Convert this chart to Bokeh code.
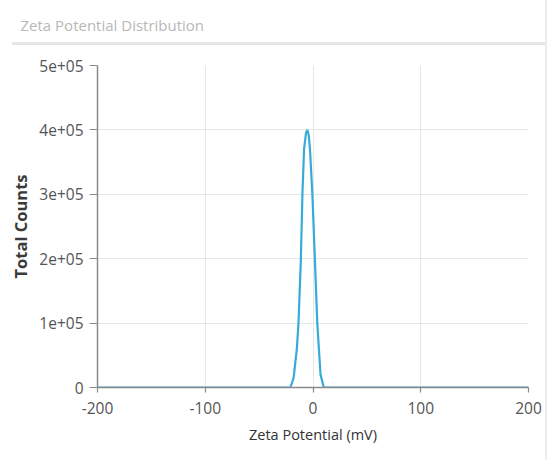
from bokeh.plotting import figure
from bokeh.models import FixedTicker, Range1d, ColumnDataSource, InlineStyleSheet, Title
from bokeh.embed import file_html
from bokeh.resources import INLINE

# Data
zeta_mv = [-200, -21, -18, -15, -13.5, -11.3, -9.8, -8.3, -6.5, -5.2, -4, -2.8, -0.6, 1.8, 4, 7, 10, 200]
total_counts = [0, 0, 15000, 60000, 99000, 197000, 301000, 370000, 395000, 400000, 392000, 370000, 301000, 197000, 99000, 20000, 0, 0]

x_ticks = [-200, -100, 0, 100, 200]
x_tick_labels = ["-200", "-100", "0", "100", "200"]
y_ticks = [0, 100000, 200000, 300000, 400000, 500000]
y_tick_labels = ["0", "1e+05", "2e+05", "3e+05", "4e+05", "5e+05"]

TITLE = "Zeta Potential Distribution"
FONT = "Open Sans"

css = InlineStyleSheet(css="""
:host { position: relative; }
:host::after {
  content: "";
  position: absolute;
  left: 12px;
  top: 42px;
  width: 533px;
  height: 3px;
  background: #e6e6e6;
  pointer-events: none;
  z-index: 5;
}
:host::before {
  content: "";
  position: absolute;
  left: 545px;
  top: 0px;
  width: 2px;
  height: 460px;
  background: #ececec;
  pointer-events: none;
  z-index: 5;
}
""")

p = figure(width=549, height=460, output_backend="svg", toolbar_location=None,
           x_range=Range1d(-200, 200), y_range=Range1d(0, 500000),
           title=None,
           min_border_left=97, min_border_right=21, min_border_top=65, min_border_bottom=73,
           stylesheets=[css])

src = ColumnDataSource(dict(x=zeta_mv, y=total_counts))
p.line("x", "y", source=src, line_color="#38aad8", line_width=2.2)

# spacer between frame and panel title, then the title itself
p.add_layout(Title(text=" ", text_font_size="1px", standoff=23), "above")
p.add_layout(Title(text=TITLE, text_font=FONT, text_font_size="15px",
                   text_font_style="normal", text_color="#b8b8b8",
                   align="left", offset=-77, standoff=10), "above")

p.outline_line_color = None
p.background_fill_color = "white"
p.border_fill_color = "white"

p.xaxis.ticker = FixedTicker(ticks=x_ticks)
p.yaxis.ticker = FixedTicker(ticks=y_ticks)
p.xaxis.major_label_overrides = {t: l for t, l in zip(x_ticks, x_tick_labels)}
p.yaxis.major_label_overrides = {t: l for t, l in zip(y_ticks, y_tick_labels)}

for ax in (p.xaxis[0], p.yaxis[0]):
    ax.axis_line_color = "#8a8a8a"
    ax.axis_line_width = 1.5
    ax.major_tick_line_color = "#8a8a8a"
    ax.major_tick_line_width = 1.2
    ax.major_tick_in = 0
    ax.minor_tick_line_color = None
    ax.major_label_text_font = FONT
    ax.major_label_text_font_size = "15.5px"
    ax.major_label_text_color = "#555555"
    ax.axis_label_text_font = FONT
    ax.axis_label_text_color = "#333333"

p.xaxis.major_tick_out = 5
p.yaxis.major_tick_out = 8
p.xaxis.major_label_standoff = 9
p.yaxis.major_label_standoff = 6
p.xaxis.axis_label = "Zeta Potential (mV)"
p.yaxis.axis_label = "Total Counts"
p.xaxis.axis_label_text_font_size = "14.5px"
p.yaxis.axis_label_text_font_size = "16.5px"
p.xaxis.axis_label_text_font_style = "normal"
p.yaxis.axis_label_text_font_style = "bold"
p.yaxis.axis_label_text_color = "#3a3a3a"
p.xaxis.axis_label_standoff = 8
p.yaxis.axis_label_standoff = 4

p.xgrid.grid_line_color = "#e6e6e6"
p.ygrid.grid_line_color = "#e6e6e6"
p.xgrid.grid_line_width = 1
p.ygrid.grid_line_width = 1

open("out.html", "w").write(file_html(p, INLINE))
